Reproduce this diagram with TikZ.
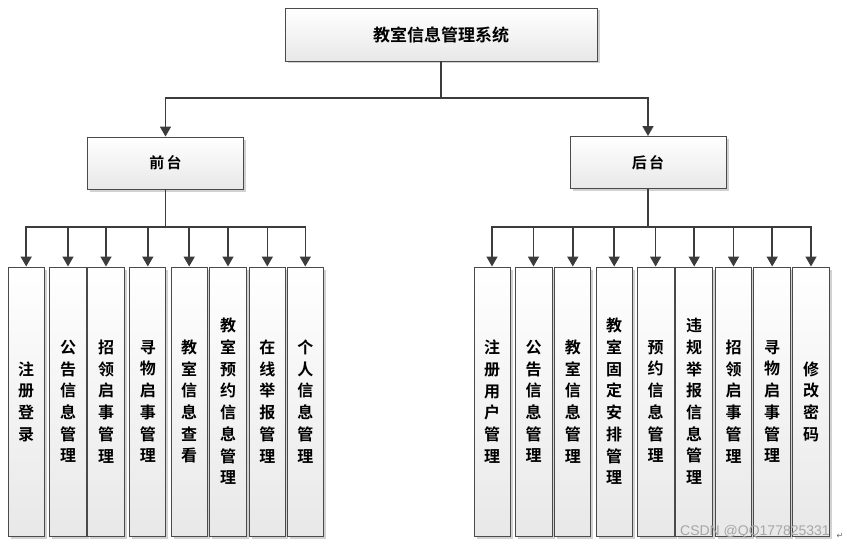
\documentclass[tikz,border=0pt]{standalone}
\usepackage{fontspec}
\newfontfamily\cjk{Noto Sans CJK SC}[BoldFont={Noto Sans CJK SC Bold}]
\newfontfamily\wmfont{Liberation Sans}
\newfontfamily\symfont{DejaVu Sans}
\usetikzlibrary{arrows.meta,shadows}
\definecolor{linec}{HTML}{3C3C3C}
\definecolor{boxc}{HTML}{4A4A4A}
\tikzset{
  box/.style={draw=boxc, line width=0.9pt, top color=white, bottom color=black!9,
    drop shadow={shadow xshift=2.5pt, shadow yshift=-2.5pt, fill=black!30, opacity=0.6},
    inner sep=0pt, align=center},
  topbox/.style={box, minimum width=312pt, minimum height=53pt, font=\cjk\bfseries\fontsize{17}{20}\selectfont},
  midbox/.style={box, minimum width=156pt, minimum height=52pt, font=\cjk\bfseries\fontsize{15}{18}\selectfont},
  leafbox/.style={box, minimum height=269pt, font=\cjk\bfseries\fontsize{16}{21.7}\selectfont},
  conn/.style={draw=linec, line width=1.6pt},
  arr/.style={conn, -{Triangle[width=11pt,length=10pt]}},
}
\begin{document}
\begin{tikzpicture}[x=1pt,y=-1pt]
\useasboundingbox (0,0) rectangle (847,551);
% top
\node[topbox] (top) at (441,34.5) {教室信息管理系统};
\node[midbox] (qt) at (165.5,163) {前\,台};
\node[midbox] (ht) at (648,162.5) {后\,台};
% left leaves
\node[leafbox, minimum width=36pt] (l1) at (26.2,401.5) {注\\册\\登\\录};
\node[leafbox, minimum width=37pt] (l2) at (68,401.5) {公\\告\\信\\息\\管\\理};
\node[leafbox, minimum width=37pt] (l3) at (106,401.5) {招\\领\\启\\事\\管\\理};
\node[leafbox, minimum width=36pt] (l4) at (147.8,401.5) {寻\\物\\启\\事\\管\\理};
\node[leafbox, minimum width=36pt] (l5) at (189.2,401.5) {教\\室\\信\\息\\查\\看};
\node[leafbox, minimum width=37pt] (l6) at (228,401.5) {教\\室\\预\\约\\信\\息\\管\\理};
\node[leafbox, minimum width=36pt] (l7) at (267.3,401.5) {在\\线\\举\\报\\管\\理};
\node[leafbox, minimum width=36pt] (l8) at (305.3,401.5) {个\\人\\信\\息\\管\\理};
% right leaves
\node[leafbox, minimum width=36pt] (r1) at (492,401.5) {注\\册\\用\\户\\管\\理};
\node[leafbox, minimum width=37pt] (r2) at (533.5,401.5) {公\\告\\信\\息\\管\\理};
\node[leafbox, minimum width=36pt] (r3) at (572.8,401.5) {教\\室\\信\\息\\管\\理};
\node[leafbox, minimum width=36pt] (r4) at (614.2,401.5) {教\\室\\固\\定\\安\\排\\管\\理};
\node[leafbox, minimum width=37pt] (r5) at (655.6,401.5) {预\\约\\信\\息\\管\\理};
\node[leafbox, minimum width=37pt] (r6) at (694.2,401.5) {违\\规\\举\\报\\信\\息\\管\\理};
\node[leafbox, minimum width=36pt] (r7) at (733.5,401.5) {招\\领\\启\\事\\管\\理};
\node[leafbox, minimum width=37pt] (r8) at (772.2,401.5) {寻\\物\\启\\事\\管\\理};
\node[leafbox, minimum width=37pt] (r9) at (811,401.5) {修\\改\\密\\码};
% junctions
\coordinate (j0) at (441,98);
\coordinate (jl) at (165.5,227);
\coordinate (jr) at (648,227);
\draw[conn] (top.south) -- (j0);
\draw[arr] (j0) -| (qt.north);
\draw[arr] (j0) -| (ht.north);
\draw[conn] (qt.south) -- (jl);
\draw[conn] (ht.south) -- (jr);
\foreach \n in {l1,l2,l3,l4,l5,l6,l7,l8} \draw[arr] (jl) -| (\n.north);
\foreach \n in {r1,r2,r3,r4,r5,r6,r7,r8,r9} \draw[arr] (jr) -| (\n.north);
% watermark
\node[font=\wmfont\fontsize{14}{14}\selectfont, text=black!35, anchor=east, inner sep=0pt] (wm) at (830,532) {CSDN @QQ177825331};
\node[font=\symfont\fontsize{8}{8}\selectfont, text=black!60, inner sep=0pt] (pm) at (840,536) {↵};
\end{tikzpicture}
\end{document}
